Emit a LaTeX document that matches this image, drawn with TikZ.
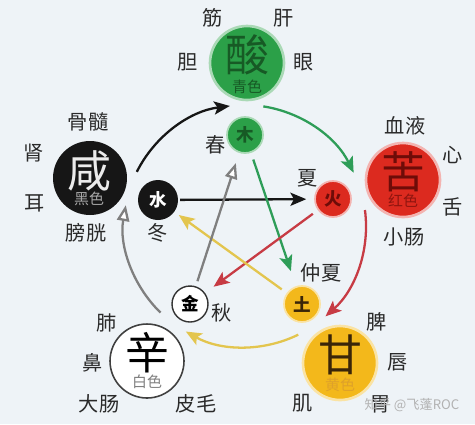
\documentclass[tikz,border=0pt]{standalone}
\usepackage{fontspec}
\setmainfont{Noto Sans CJK SC}
\usepackage{tikz}
\usetikzlibrary{arrows.meta, positioning}
\definecolor{bgcol}{HTML}{EEF3F7}
\definecolor{woodgreen}{HTML}{2BA048}
\definecolor{wooddark}{HTML}{175A25}
\definecolor{woodarrow}{HTML}{2E9D58}
\definecolor{waterblack}{HTML}{161616}
\definecolor{firered}{HTML}{DC2A1F}
\definecolor{firedark}{HTML}{6E0C08}
\definecolor{firearrow}{HTML}{C73B44}
\definecolor{earthyellow}{HTML}{F3B81B}
\definecolor{earthdark}{HTML}{3A2508}
\definecolor{eartharrow}{HTML}{E3C54E}
\definecolor{metalgray}{HTML}{7F7F7F}
\definecolor{labelcol}{HTML}{2A2A2A}
\tikzstyle{bigcircle} = [circle, minimum size=1.48cm, inner sep=0]
\tikzstyle{smallcircle} = [circle, minimum size=0.72cm, inner sep=0, font=\fontsize{10}{10}\selectfont\bfseries]
\tikzstyle{taste} = [inner sep=0, font=\fontsize{25}{25}\selectfont]
\tikzstyle{tint} = [inner sep=0, font=\fontsize{8.5}{8.5}\selectfont]
\tikzstyle{organ} = [inner sep=0, text=labelcol, font=\fontsize{11.5}{11.5}\selectfont]
\tikzstyle{flow} = [line width=1.3pt, -{Stealth[length=9pt, width=7.5pt, inset=2pt]}]
\tikzstyle{openflow} = [line width=1.3pt, draw=metalgray, -{Triangle[open, length=9pt, width=7pt, fill=white]}]

\begin{document}
\begin{tikzpicture}[x=0.02cm, y=-0.02cm]
	\fill [bgcol] (0, 0) rectangle (475, 424);
	\useasboundingbox (0, 0) rectangle (475, 424);

	% the five tastes
	\node (Sour) [bigcircle, fill=woodgreen, draw=woodgreen!40, line width=1.5pt] at (247, 63) {};
	\node (SourText) [taste, text=wooddark] at (247, 55) {酸};
	\node (SourColor) [tint, text=wooddark] at (247, 87) {青色};

	\node (Salty) [bigcircle, fill=waterblack] at (90, 178) {};
	\node (SaltyText) [taste, text=white!92!black] at (89, 171) {咸};
	\node (SaltyColor) [tint, text=white!65!black] at (89, 199) {黑色};

	\node (Bitter) [bigcircle, fill=firered, draw=firered!35, line width=1.5pt] at (403, 180) {};
	\node (BitterText) [taste, text=firedark] at (403, 172) {苦};
	\node (BitterColor) [tint, text=firedark!70!firered] at (403, 201) {红色};

	\node (Pungent) [bigcircle, fill=white, draw=black!75, line width=0.9pt] at (147, 361) {};
	\node (PungentText) [taste, text=black] at (147, 353) {辛};
	\node (PungentColor) [tint, text=black!50] at (147, 382) {白色};

	\node (Sweet) [bigcircle, fill=earthyellow, draw=earthyellow!40, line width=1.5pt] at (340, 363) {};
	\node (SweetText) [taste, text=earthdark] at (340, 355) {甘};
	\node (SweetColor) [tint, text=earthyellow!60!brown] at (340, 385) {黄色};

	% the five elements
	\node (Wood) [smallcircle, fill=woodgreen, draw=woodgreen!40, line width=1pt, text=wooddark] at (245, 135) {木};
	\node (Water) [smallcircle, minimum size=0.8cm, fill=waterblack, text=white] at (158, 200) {水};
	\node (Fire) [smallcircle, fill=firered, draw=firered!35, line width=1pt, text=firedark] at (333, 199) {火};
	\node (Metal) [smallcircle, fill=white, draw=black!80, line width=0.8pt, text=black] at (190, 304) {金};
	\node (Earth) [smallcircle, fill=earthyellow, draw=earthyellow!40, line width=1pt, text=earthdark] at (302, 304) {土};

	% seasons
	\node (Spring) [organ] at (216, 145) {春};
	\node (Summer) [organ] at (308, 178) {夏};
	\node (LateSummer) [organ] at (321, 273) {仲夏};
	\node (Autumn) [organ] at (222, 313) {秋};
	\node (Winter) [organ] at (158, 233) {冬};

	% organs around each taste
	\node (Tendon) [organ] at (213, 18) {筋};
	\node (Liver) [organ] at (284, 18) {肝};
	\node (Gallbladder) [organ] at (188, 62) {胆};
	\node (Eye) [organ] at (304, 62) {眼};

	\node (Marrow) [organ] at (88, 122) {骨髓};
	\node (Kidney) [organ] at (34, 153) {肾};
	\node (Ear) [organ] at (35, 203) {耳};
	\node (Bladder) [organ] at (86, 233) {膀胱};

	\node (Blood) [organ] at (405, 126) {血液};
	\node (Heart) [organ] at (453, 155) {心};
	\node (Tongue) [organ] at (453, 207) {舌};
	\node (SmallIntestine) [organ] at (404, 237) {小肠};

	\node (Lung) [organ] at (107, 323) {肺};
	\node (Nose) [organ] at (93, 363) {鼻};
	\node (LargeIntestine) [organ] at (99, 404) {大肠};
	\node (SkinHair) [organ] at (196, 404) {皮毛};

	\node (Spleen) [organ] at (377, 322) {脾};
	\node (Lips) [organ] at (398, 362) {唇};
	\node (Stomach) [organ] at (381, 404) {胃};
	\node (Muscle) [organ] at (303, 403) {肌};

	% outer cycle
	\coordinate (Ring) at (245, 226);
	\draw [flow, waterblack] ([shift={(206.6:121)}]Ring) arc [start angle=206.6, end angle=262.8, radius=121];
	\draw [flow, woodarrow] ([shift={(278.7:121)}]Ring) arc [start angle=278.7, end angle=333.9, radius=121];
	\draw [flow, firearrow] ([shift={(352.4:121)}]Ring) arc [start angle=352.4, end angle=408.3, radius=121];
	\draw [flow, eartharrow] ([shift={(63.9:121)}]Ring) arc [start angle=63.9, end angle=119.3, radius=121];
	\draw [openflow] ([shift={(134.3:121)}]Ring) arc [start angle=134.3, end angle=189.9, radius=121];

	% inner star
	\draw [flow, waterblack, shorten <=1pt, shorten >=4.5pt] (Water) -- (Fire);
	\draw [flow, woodarrow, shorten <=4pt, shorten >=9pt] (Wood) -- (Earth);
	\draw [flow, firearrow, shorten <=3.5pt, shorten >=6pt] (Fire) -- (Metal);
	\draw [flow, eartharrow, shorten <=3.5pt, shorten >=3pt] (Earth) -- (Water);
	\draw [openflow, shorten <=3pt, shorten >=6pt] (Metal) -- (Wood);

	\node (Mark) [inner sep=0, text=black!30, font=\fontsize{7.5}{7.5}\selectfont] at (412, 405) {知乎 @飞蓬ROC};
\end{tikzpicture}
\end{document}
